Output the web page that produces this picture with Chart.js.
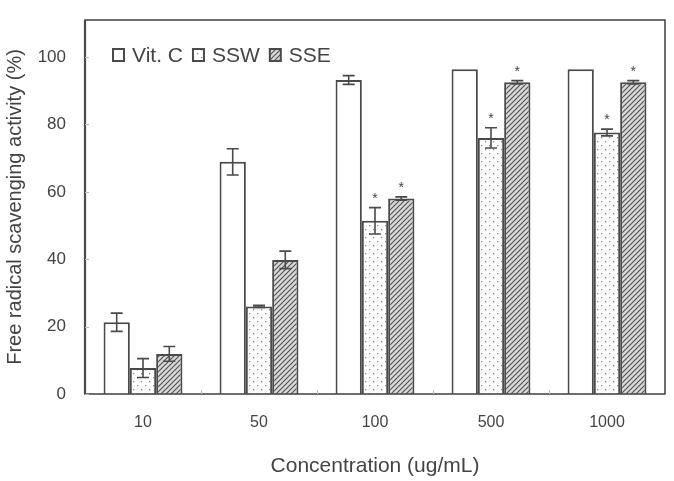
<!DOCTYPE html>
<html>
<head>
<meta charset="utf-8">
<script src="https://cdn.jsdelivr.net/npm/chart.js@4.4.1/dist/chart.umd.min.js"></script>
<style>
  html, body { margin: 0; padding: 0; background: #fff; }
  #wrap { width: 674px; height: 481px; }
</style>
</head>
<body>
<div id="wrap"><canvas id="radicalChart" width="674" height="481"></canvas></div>
<script>
// data
var concentrations = ['10', '50', '100', '500', '1000'];
var vitC = [21.3, 68.9, 93.2, 96.4, 96.4];
var vitCErr = [2.7, 3.9, 1.3, 0, 0];
var ssw = [7.7, 26.0, 51.4, 76.0, 77.6];
var sswErr = [2.8, 0.3, 3.9, 3.0, 1.0];
var sse = [11.9, 39.8, 58.0, 92.5, 92.5];
var sseErr = [2.2, 2.6, 0.5, 0.5, 0.5];
var sswStar = [false, false, true, true, true];
var sseStar = [false, false, true, true, true];
var yTicks = [0, 20, 40, 60, 80, 100];

var lineCol = '#4a4a4a';
var textCol = '#444';

function dotPattern() {
    var c = document.createElement('canvas');
    c.width = 8; c.height = 8;
    var g = c.getContext('2d');
    g.fillStyle = '#fff';
    g.fillRect(0, 0, 8, 8);
    g.fillStyle = '#8a8a8a';
    g.fillRect(1, 1, 1.3, 1.3);
    g.fillRect(5, 5, 1.3, 1.3);
    return g.createPattern(c, 'repeat');
}

function hatchPattern() {
    var c = document.createElement('canvas');
    c.width = 5; c.height = 5;
    var g = c.getContext('2d');
    g.fillStyle = '#d8d8d8';
    g.fillRect(0, 0, 5, 5);
    g.strokeStyle = '#555';
    g.lineWidth = 1.2;
    g.beginPath();
    g.moveTo(-1, 6); g.lineTo(6, -1);
    g.moveTo(-1, 1); g.lineTo(1, -1);
    g.moveTo(4, 6); g.lineTo(6, 4);
    g.stroke();
    return g.createPattern(c, 'repeat');
}

var dots = dotPattern();
var hatch = hatchPattern();

var errs = [vitCErr, sswErr, sseErr];
var stars = [null, sswStar, sseStar];

// error bars, significance marks, frame and small tick marks
var extras = {
    id: 'extras',
    afterDatasetsDraw: function (chart) {
        var ctx = chart.ctx;
        var y = chart.scales.y;
        var a = chart.chartArea;
        ctx.save();
        ctx.strokeStyle = lineCol;
        ctx.lineWidth = 1.6;
        chart.data.datasets.forEach(function (ds, i) {
            var meta = chart.getDatasetMeta(i);
            meta.data.forEach(function (bar, j) {
                var v = ds.data[j];
                var e = errs[i][j];
                var top = y.getPixelForValue(v + e);
                if (e > 0) {
                    var bot = y.getPixelForValue(v - e);
                    ctx.beginPath();
                    ctx.moveTo(bar.x, top); ctx.lineTo(bar.x, bot);
                    ctx.moveTo(bar.x - 6, top); ctx.lineTo(bar.x + 6, top);
                    ctx.moveTo(bar.x - 6, bot); ctx.lineTo(bar.x + 6, bot);
                    ctx.stroke();
                }
                if (stars[i] && stars[i][j]) {
                    ctx.fillStyle = textCol;
                    ctx.font = '14px "Liberation Sans"';
                    ctx.textAlign = 'center';
                    ctx.textBaseline = 'middle';
                    ctx.fillText('*', bar.x, top - 9);
                }
            });
        });

        // frame
        ctx.lineWidth = 1.6;
        ctx.strokeRect(a.left, a.top, a.right - a.left, a.bottom - a.top);
        ctx.lineWidth = 2.2;
        ctx.beginPath();
        ctx.moveTo(a.left, a.top); ctx.lineTo(a.left, a.bottom);
        ctx.stroke();

        // little inner ticks
        ctx.strokeStyle = '#bbb';
        ctx.lineWidth = 1;
        ctx.beginPath();
        yTicks.forEach(function (t) {
            var py = Math.round(y.getPixelForValue(t)) + 0.5;
            ctx.moveTo(a.left, py); ctx.lineTo(a.left + 4, py);
        });
        var step = (a.right - a.left) / concentrations.length;
        for (var k = 1; k < concentrations.length; k++) {
            var px = Math.round(a.left + step * k) + 0.5;
            ctx.moveTo(px, a.bottom); ctx.lineTo(px, a.bottom - 4);
        }
        ctx.stroke();

        // legend
        var items = [
            { label: 'Vit. C', fill: '#fff' },
            { label: 'SSW', fill: dots },
            { label: 'SSE', fill: hatch }
        ];
        var lx = a.left + 28, ly = a.top + 35;
        ctx.font = '21px "Liberation Sans"';
        ctx.textAlign = 'left';
        ctx.textBaseline = 'middle';
        items.forEach(function (it) {
            ctx.fillStyle = it.fill;
            ctx.fillRect(lx, ly - 6, 11, 12);
            ctx.strokeStyle = lineCol;
            ctx.lineWidth = 2;
            ctx.strokeRect(lx, ly - 6, 11, 12);
            ctx.fillStyle = textCol;
            ctx.fillText(it.label, lx + 19, ly + 1);
            lx += 19 + ctx.measureText(it.label).width + 10;
        });
        ctx.restore();
    }
};

var ctx = document.getElementById('radicalChart').getContext('2d');
var chart = new Chart(ctx, {
    type: 'bar',
    data: {
        labels: concentrations,
        datasets: [
            { label: 'Vit. C', data: vitC, backgroundColor: '#fff', borderColor: lineCol, borderWidth: 2 },
            { label: 'SSW', data: ssw, backgroundColor: dots, borderColor: lineCol, borderWidth: 2 },
            { label: 'SSE', data: sse, backgroundColor: hatch, borderColor: lineCol, borderWidth: 2 }
        ]
    },
    options: {
        responsive: false,
        animation: false,
        layout: { padding: { left: 0, right: 9, top: 20, bottom: 0 } },
        datasets: {
            bar: { categoryPercentage: 0.68, barPercentage: 1.0, borderSkipped: 'start' }
        },
        plugins: {
            legend: { display: false },
            tooltip: { enabled: false }
        },
        scales: {
            x: {
                grid: { display: false, drawTicks: false },
                border: { display: false },
                ticks: { color: textCol, font: { family: 'Liberation Sans', size: 16 }, padding: 19 },
                title: {
                    display: true,
                    text: 'Concentration (ug/mL)',
                    color: textCol,
                    font: { family: 'Liberation Sans', size: 21 },
                    padding: { top: 4, bottom: 2 }
                },
                afterFit: function (s) { s.height = 87; s.paddingLeft = 0; s.paddingRight = 0; }
            },
            y: {
                min: 0,
                max: 111,
                grid: { display: false, drawTicks: false },
                border: { display: false },
                ticks: { stepSize: 20, color: textCol, font: { family: 'Liberation Sans', size: 17 }, padding: 19 },
                afterBuildTicks: function (s) {
                    s.ticks = yTicks.map(function (v) { return { value: v }; });
                },
                title: {
                    display: true,
                    text: 'Free radical scavenging activity (%)',
                    color: textCol,
                    font: { family: 'Liberation Sans', size: 20 },
                    padding: { top: 3, bottom: 4 }
                },
                afterFit: function (s) { s.width = 85; s.paddingTop = 0; s.paddingBottom = 0; }
            }
        }
    },
    plugins: [extras]
});
</script>
</body>
</html>
